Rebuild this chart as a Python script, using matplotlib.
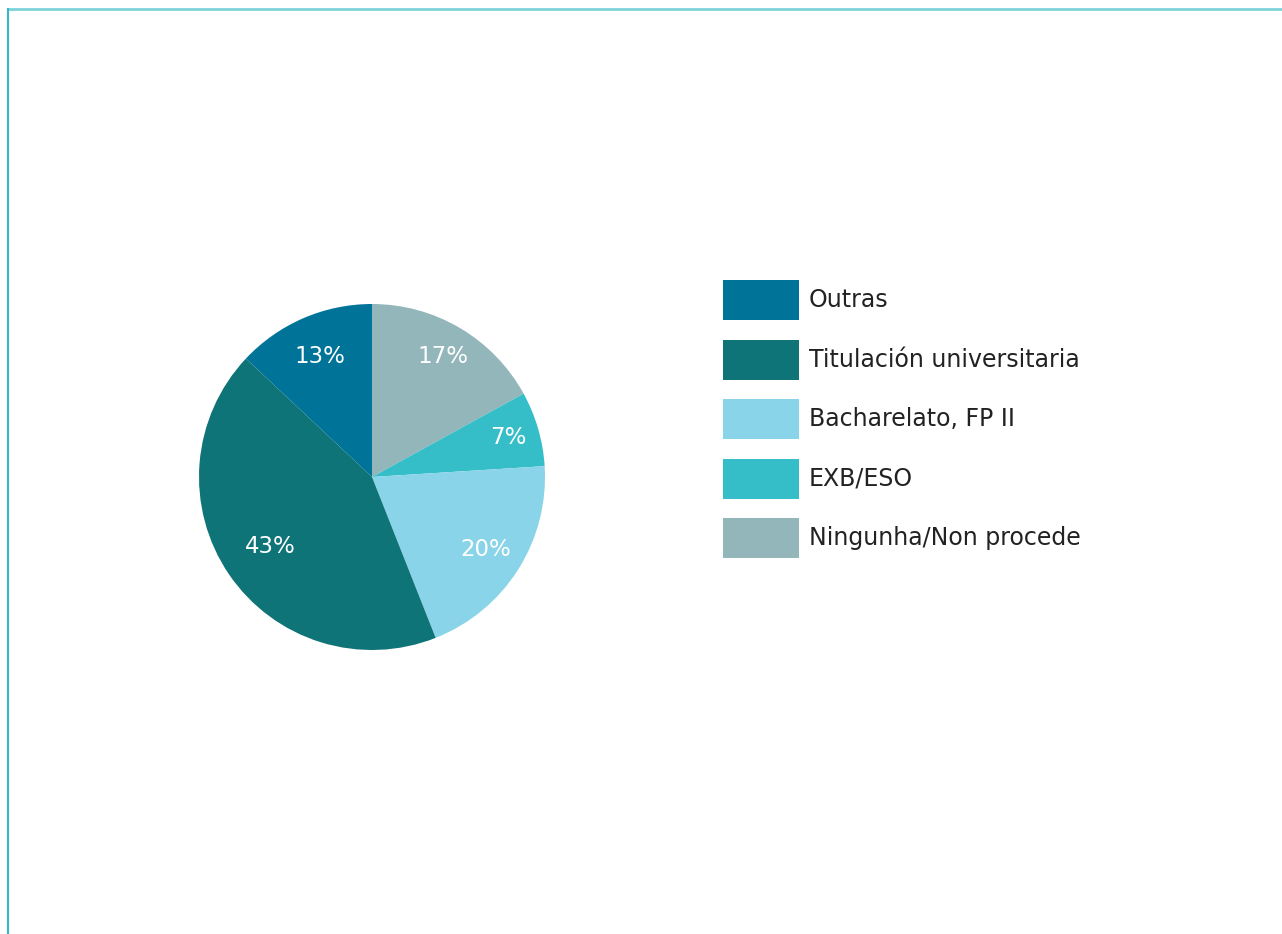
import matplotlib
matplotlib.use("Agg")
import numpy as np
import matplotlib.pyplot as plt
from matplotlib.lines import Line2D

plt.rcParams['font.family'] = ['DejaVu Sans']

# slices, clockwise from 12 o'clock
labels = ["Ningunha/Non procede", "EXB/ESO", "Bacharelato, FP II",
          "Titulación universitaria", "Outras"]
values = [17, 7, 20, 43, 13]
colors = ["#93b6bb", "#35bdc8", "#89d4e8", "#0f7478", "#007398"]
# radial position of each percentage label (fraction of radius)
label_dist = [0.81, 0.82, 0.78, 0.71, 0.76]

W, H = 1282, 934
fig = plt.figure(figsize=(W / 100, H / 100), dpi=100)

cx, cy, r = 372, 477, 173
ax = fig.add_axes([(cx - r) / W, (H - cy - r) / H, 2 * r / W, 2 * r / H])
wedges, texts, autotexts = ax.pie(
    values, colors=colors, startangle=90, counterclock=False,
    autopct=lambda p: "%d%%" % round(p), pctdistance=0.78,
    wedgeprops=dict(linewidth=0), textprops=dict(color="white", fontsize=16.5))
for w, t, d in zip(wedges, autotexts, label_dist):
    ang = np.deg2rad((w.theta1 + w.theta2) / 2)
    t.set_position((d * np.cos(ang), d * np.sin(ang)))
ax.set_xlim(-1, 1)
ax.set_ylim(-1, 1)
ax.set_aspect("equal")

# legend in reverse order
leg = ax.legend(wedges[::-1], labels[::-1], loc="upper left",
                bbox_to_anchor=(723 / W, 1 - 280 / H), bbox_transform=fig.transFigure,
                frameon=False, fontsize=17, handlelength=3.22, handleheight=2.23,
                labelspacing=0.826, handletextpad=0.42, borderpad=0, borderaxespad=0)
for t in leg.get_texts():
    t.set_color("#222222")

# frame lines top and left
fig.add_artist(Line2D([8 / W, 1], [1 - 9 / H, 1 - 9 / H], color="#7dd3da", lw=2))
fig.add_artist(Line2D([8 / W, 8 / W], [0, 1 - 9 / H], color="#35b8c8", lw=1.5))

fig.savefig("out.png", dpi=100)
